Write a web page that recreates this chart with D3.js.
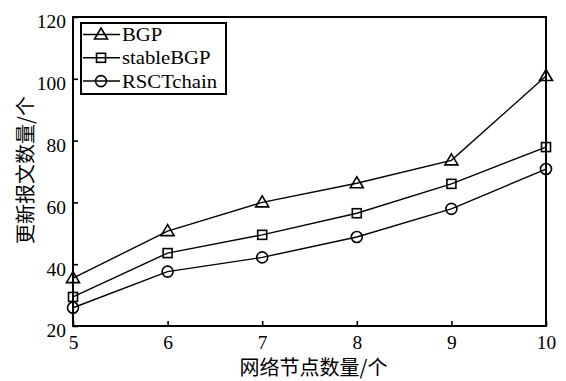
<!DOCTYPE html>
<html>
<head>
<meta charset="utf-8">
<script src="https://cdn.jsdelivr.net/npm/d3@7"></script>
<style>
  body { margin: 0; background: #fff; }
  svg text { fill: #000; }
</style>
</head>
<body>
<div id="chart"></div>
<script>
// data
const nodeCounts = [5, 6, 7, 8, 9, 10];
const bgp = [35.5, 50.7, 60, 66.2, 73.6, 100.9];
const stableBgp = [29.4, 43.6, 49.5, 56.5, 66, 77.9];
const rsctChain = [25.9, 37.6, 42.2, 48.8, 57.9, 70.8];
const seriesNames = ["BGP", "stableBGP", "RSCTchain"];
const yTicks = [20, 40, 60, 80, 100, 120];
const xTitle = "网络节点数量/个";
const yTitle = "更新报文数量/个";

const W = 566, H = 381;
const margin = { top: 17, right: 20, bottom: 55, left: 73 };
const width = W - margin.left - margin.right;
const height = H - margin.top - margin.bottom;
const serif = "'Liberation Serif', 'Times New Roman', serif";
const cjk = "'Noto Sans CJK SC', sans-serif";

const svg = d3.select("#chart").append("svg")
  .attr("width", W).attr("height", H);
const g = svg.append("g")
  .attr("transform", "translate(" + margin.left + "," + margin.top + ")");

const x = d3.scaleLinear().domain([5, 10]).range([0, width]);
const y = d3.scaleLinear().domain([20, 120]).range([height, 0]);

// axes with inward ticks
const xAxis = g.append("g")
  .attr("transform", "translate(0," + height + ")")
  .call(d3.axisBottom(x).tickValues(nodeCounts).tickFormat(d3.format("d"))
    .tickSizeInner(-5).tickSizeOuter(0).tickPadding(10));
const yAxis = g.append("g")
  .call(d3.axisLeft(y).tickValues(yTicks).tickSizeInner(-5).tickSizeOuter(0).tickPadding(8));

[xAxis, yAxis].forEach(a => {
  a.attr("font-family", serif).attr("font-size", 18);
  a.select(".domain").remove();
  a.selectAll(".tick line").attr("stroke", "#000").attr("stroke-width", 1.6);
});
// the original glyphs are a little wider than Liberation Serif
yAxis.selectAll("text").attr("dy", "0.6em").attr("x", -6.5).attr("transform", "scale(1.08,1)");
xAxis.selectAll("text").attr("dy", "0.72em").attr("transform", "scale(1.08,1)");

// frame
g.append("rect")
  .attr("x", 0).attr("y", 0).attr("width", width).attr("height", height)
  .attr("fill", "none").attr("stroke", "#000").attr("stroke-width", 2);

// markers
function drawMarker(sel, type) {
  if (type === 0) {
    sel.append("path").attr("d", "M0,-6.5L6.5,4.5L-6.5,4.5Z");
  } else if (type === 1) {
    sel.append("rect").attr("x", -4.5).attr("y", -4.5).attr("width", 9).attr("height", 9);
  } else {
    sel.append("circle").attr("r", 5.5);
  }
  sel.selectAll("*").attr("fill", "none").attr("stroke", "#000").attr("stroke-width", 1.6);
}

const allSeries = [bgp, stableBgp, rsctChain];
const line = d3.line().x((d, i) => x(nodeCounts[i])).y(d => y(d));

allSeries.forEach((vals, si) => {
  g.append("path").datum(vals)
    .attr("d", line)
    .attr("fill", "none").attr("stroke", "#000").attr("stroke-width", 1.4);
  vals.forEach((v, i) => {
    const m = g.append("g").attr("transform", "translate(" + x(nodeCounts[i]) + "," + y(v) + ")");
    drawMarker(m, si);
  });
});

// legend
const leg = svg.append("g").attr("transform", "translate(81,23)");
leg.append("rect").attr("width", 145).attr("height", 71)
  .attr("fill", "#fff").attr("stroke", "#000").attr("stroke-width", 2);
seriesNames.forEach((name, i) => {
  const ly = 11.5 + i * 23.3;
  leg.append("line").attr("x1", 2).attr("x2", 39).attr("y1", ly).attr("y2", ly)
    .attr("stroke", "#000").attr("stroke-width", 1.5);
  drawMarker(leg.append("g").attr("transform", "translate(20," + ly + ")"), i);
  leg.append("text")
    .attr("transform", "translate(41," + (ly + 6.5) + ") scale(1.12,1)")
    .style("font-family", serif).style("font-size", "18.5px").text(name);
});

// axis titles
svg.append("text")
  .attr("x", margin.left + width / 2 + 4).attr("y", 375)
  .attr("text-anchor", "middle")
  .style("font-family", cjk).style("font-size", "20px")
  .text(xTitle);
svg.append("text")
  .attr("transform", "translate(33,170) rotate(-90)")
  .attr("text-anchor", "middle")
  .style("font-family", cjk).style("font-size", "20px")
  .text(yTitle);
</script>
</body>
</html>
